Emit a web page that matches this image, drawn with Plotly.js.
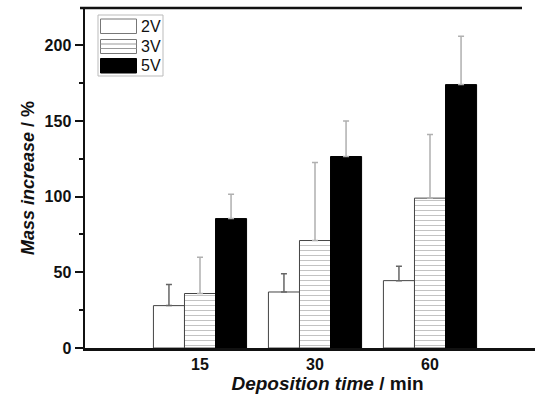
<!DOCTYPE html>
<html>
<head>
<meta charset="utf-8">
<script src="https://cdn.plot.ly/plotly-3.0.1.min.js"></script>
<style>html,body{margin:0;padding:0;background:#fff;overflow:hidden;}#chart{width:570px;height:401px;}</style>
</head>
<body>
<div id="chart"></div>
<script>
// Data
const categories = ["15", "30", "60"];
const seriesNames = ["2V", "3V", "5V"];
const values2V = [28, 37, 44.5];
const values3V = [36, 71, 99];
const values5V = [85.5, 126.5, 174];
const err2V = [14, 12, 9.5];
const err3V = [24, 51.5, 42];
const err5V = [16, 23.5, 32];

const L = 85, T = 8, W = 570, H = 401, B = 53;
const pw = W - L, ph = H - T - B;
const px = x => (x - L) / pw;
const py = y => (H - B - y) / ph;

function errObj(arr, color) {
  return {type: 'data', array: arr, symmetric: false, arrayminus: arr.map(() => 0),
          color: color, thickness: 1.5, width: 3};
}

const traces = [
  {type: 'bar', name: seriesNames[0], x: categories, y: values2V,
   marker: {color: '#ffffff', line: {color: '#444', width: 1}},
   error_y: errObj(err2V, '#666'), showlegend: false},
  {type: 'bar', name: seriesNames[1], x: categories, y: values3V,
   marker: {color: '#ffffff', line: {color: '#444', width: 1},
            pattern: {shape: '-', size: 5, solidity: 0.2, fgcolor: '#888', bgcolor: '#ffffff', fillmode: 'overlay'}},
   error_y: errObj(err3V, '#b0b0b0'), showlegend: false},
  {type: 'bar', name: seriesNames[2], x: categories, y: values5V,
   marker: {color: '#000000', line: {color: '#000', width: 1}},
   error_y: errObj(err5V, '#b0b0b0'), showlegend: false}
];

// Custom legend (box + swatches + labels) and top frame line
const shapes = [];
const annotations = [];
shapes.push({type: 'rect', xref: 'paper', yref: 'paper', x0: px(80), x1: px(522), y0: py(9.25), y1: py(6.75),
             line: {width: 0}, fillcolor: '#111'});
shapes.push({type: 'rect', xref: 'paper', yref: 'paper', x0: px(98), x1: px(163), y0: py(76), y1: py(15),
             line: {color: '#bbb', width: 1}, fillcolor: 'rgba(255,255,255,0)'});
const swY = [[19, 33.5], [39.5, 53.5], [58.5, 73]];
shapes.push({type: 'rect', xref: 'paper', yref: 'paper', x0: px(100.5), x1: px(136.5), y0: py(swY[0][1]), y1: py(swY[0][0]),
             line: {color: '#777', width: 1}, fillcolor: '#fff'});
shapes.push({type: 'rect', xref: 'paper', yref: 'paper', x0: px(100.5), x1: px(136.5), y0: py(swY[1][1]), y1: py(swY[1][0]),
             line: {color: '#777', width: 1}, fillcolor: '#fff'});
[44, 48.5].forEach(yy => shapes.push({type: 'line', xref: 'paper', yref: 'paper', x0: px(100.5), x1: px(136.5), y0: py(yy), y1: py(yy),
             line: {color: '#999', width: 1}}));
shapes.push({type: 'rect', xref: 'paper', yref: 'paper', x0: px(100.5), x1: px(136.5), y0: py(swY[2][1]), y1: py(swY[2][0]),
             line: {color: '#000', width: 1}, fillcolor: '#000'});
seriesNames.forEach((n, i) => {
  annotations.push({xref: 'paper', yref: 'paper', x: px(139), y: py((swY[i][0] + swY[i][1]) / 2),
    xanchor: 'left', yanchor: 'middle', showarrow: false, text: n,
    font: {family: 'Liberation Sans, Arial, sans-serif', size: 16, color: '#111'}});
});

const layout = {
  width: W, height: H,
  margin: {l: L, r: 0, t: T, b: B, pad: 0},
  paper_bgcolor: '#fff', plot_bgcolor: '#fff',
  barmode: 'group', bargap: 0.19, bargroupgap: 0,
  showlegend: false,
  font: {family: 'Liberation Sans, Arial, sans-serif', color: '#111'},
  xaxis: {
    type: 'category', range: [-1, -1 + pw / 115], showgrid: false, zeroline: false,
    showline: true, linecolor: '#111', linewidth: 2.5, mirror: false,
    ticks: '', tickfont: {size: 16, family: 'Liberation Sans, Arial, sans-serif', weight: 'bold'},
    title: {text: '<b><i>Deposition time</i> / min</b>', font: {size: 19}, standoff: 1}
  },
  yaxis: {
    range: [0, 224.6], showgrid: false, zeroline: false, mirror: false,
    showline: true, linecolor: '#111', linewidth: 2.5,
    ticks: 'outside', ticklen: 8, tickwidth: 2, tickcolor: '#111',
    tick0: 0, dtick: 50,
    minor: {ticks: 'outside', ticklen: 4, tickwidth: 2, tickcolor: '#111', dtick: 25, showgrid: false},
    tickfont: {size: 16, family: 'Liberation Sans, Arial, sans-serif', weight: 'bold'},
    title: {text: '<b><i>Mass increase</i> / %</b>', font: {size: 18}, standoff: 6}
  },
  shapes: shapes,
  annotations: annotations
};

Plotly.newPlot('chart', traces, layout, {displayModeBar: false, staticPlot: true});
</script>
</body>
</html>
